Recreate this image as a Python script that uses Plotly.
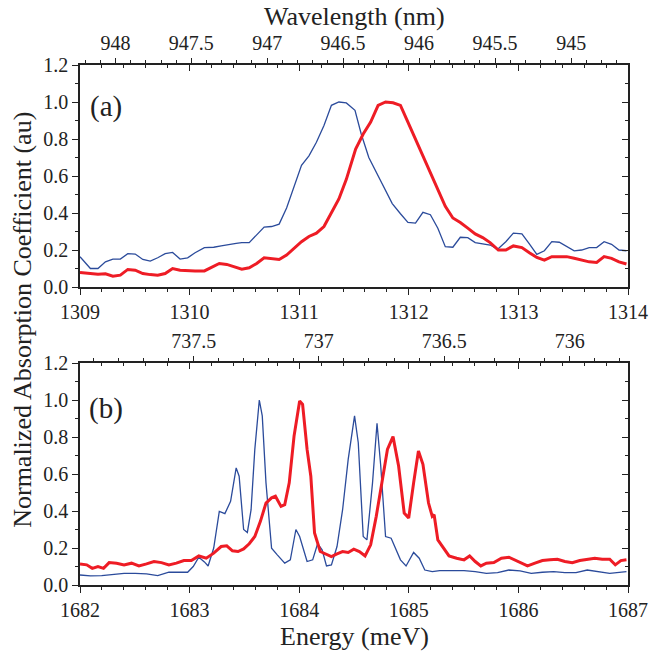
import numpy as np
import plotly.graph_objects as go

# ---------------- data ----------------
# panel (a)
energy_a_blue = [1309.000, 1309.095, 1309.164, 1309.232, 1309.300, 1309.368, 1309.436, 1309.504, 1309.573, 1309.641,
                 1309.709, 1309.777, 1309.845, 1309.913, 1309.982, 1310.050, 1310.135, 1310.220, 1310.288, 1310.357,
                 1310.425, 1310.476, 1310.544, 1310.612, 1310.680, 1310.748, 1310.817, 1310.885, 1310.953, 1311.021,
                 1311.089, 1311.157, 1311.226, 1311.294, 1311.362, 1311.430, 1311.509, 1311.566, 1311.635, 1311.703,
                 1311.771, 1311.849, 1311.924, 1311.992, 1312.061, 1312.129, 1312.197, 1312.265, 1312.333, 1312.402,
                 1312.470, 1312.538, 1312.606, 1312.674, 1312.742, 1312.811, 1312.885, 1312.954, 1313.032, 1313.100,
                 1313.168, 1313.237, 1313.305, 1313.373, 1313.441, 1313.509, 1313.577, 1313.646, 1313.714, 1313.782,
                 1313.850, 1313.918, 1313.986]
absorb_a_blue = [0.164, 0.100, 0.100, 0.136, 0.151, 0.151, 0.180, 0.178, 0.149, 0.140,
                 0.158, 0.180, 0.187, 0.151, 0.158, 0.185, 0.213, 0.215, 0.222, 0.231,
                 0.236, 0.240, 0.240, 0.282, 0.324, 0.327, 0.340, 0.427, 0.545, 0.658,
                 0.709, 0.782, 0.873, 0.982, 1.000, 0.995, 0.955, 0.827, 0.700, 0.618,
                 0.536, 0.451, 0.396, 0.349, 0.345, 0.404, 0.391, 0.318, 0.218, 0.215,
                 0.269, 0.267, 0.240, 0.233, 0.227, 0.204, 0.245, 0.291, 0.287, 0.233,
                 0.176, 0.196, 0.245, 0.242, 0.218, 0.195, 0.200, 0.213, 0.213, 0.245,
                 0.231, 0.200, 0.196]

energy_a_red = [1309.000, 1309.095, 1309.164, 1309.232, 1309.300, 1309.368, 1309.436, 1309.504, 1309.573, 1309.641,
                1309.709, 1309.777, 1309.845, 1309.913, 1309.982, 1310.050, 1310.135, 1310.203, 1310.271, 1310.339,
                1310.408, 1310.476, 1310.544, 1310.612, 1310.680, 1310.748, 1310.817, 1310.885, 1310.953, 1311.021,
                1311.089, 1311.157, 1311.226, 1311.294, 1311.362, 1311.430, 1311.515, 1311.584, 1311.652, 1311.720,
                1311.788, 1311.856, 1311.924, 1311.992, 1312.061, 1312.129, 1312.197, 1312.265, 1312.333, 1312.402,
                1312.470, 1312.538, 1312.606, 1312.674, 1312.742, 1312.817, 1312.885, 1312.954, 1313.032, 1313.100,
                1313.168, 1313.237, 1313.305, 1313.373, 1313.441, 1313.509, 1313.577, 1313.646, 1313.714, 1313.782,
                1313.850, 1313.918, 1313.986]
absorb_a_red = [0.078, 0.073, 0.069, 0.071, 0.058, 0.064, 0.095, 0.091, 0.073, 0.067,
                0.064, 0.073, 0.100, 0.091, 0.087, 0.087, 0.087, 0.105, 0.127, 0.122,
                0.109, 0.096, 0.104, 0.127, 0.158, 0.155, 0.149, 0.173, 0.209, 0.245,
                0.273, 0.291, 0.327, 0.400, 0.476, 0.582, 0.745, 0.827, 0.891, 0.982,
                1.000, 0.996, 0.982, 0.891, 0.800, 0.709, 0.618, 0.527, 0.436, 0.373,
                0.349, 0.318, 0.287, 0.267, 0.240, 0.200, 0.200, 0.222, 0.213, 0.185,
                0.160, 0.145, 0.164, 0.164, 0.164, 0.155, 0.145, 0.136, 0.133, 0.164,
                0.155, 0.136, 0.124]

# panel (b)
energy_b_blue = [1682.000, 1682.095, 1682.198, 1682.300, 1682.402, 1682.504, 1682.607, 1682.709, 1682.811, 1682.913,
                 1682.982, 1683.033, 1683.084, 1683.135, 1683.169, 1683.220, 1683.271, 1683.322, 1683.374, 1683.425,
                 1683.452, 1683.493, 1683.527, 1683.561, 1683.595, 1683.636, 1683.663, 1683.697, 1683.748, 1683.800,
                 1683.868, 1683.919, 1683.970, 1684.004, 1684.072, 1684.123, 1684.168, 1684.209, 1684.249, 1684.294,
                 1684.345, 1684.396, 1684.447, 1684.505, 1684.539, 1684.584, 1684.618, 1684.669, 1684.710, 1684.744,
                 1684.788, 1684.839, 1684.873, 1684.924, 1684.975, 1685.044, 1685.095, 1685.146, 1685.214, 1685.282,
                 1685.402, 1685.504, 1685.606, 1685.708, 1685.810, 1685.913, 1686.015, 1686.117, 1686.219, 1686.322,
                 1686.424, 1686.526, 1686.628, 1686.731, 1686.833, 1686.986]
absorb_b_blue = [0.054, 0.049, 0.051, 0.056, 0.063, 0.063, 0.060, 0.051, 0.069, 0.069,
                 0.069, 0.100, 0.150, 0.125, 0.103, 0.200, 0.398, 0.386, 0.452, 0.633,
                 0.588, 0.300, 0.284, 0.407, 0.733, 1.000, 0.914, 0.552, 0.199, 0.163,
                 0.118, 0.136, 0.300, 0.262, 0.127, 0.136, 0.223, 0.190, 0.103, 0.109,
                 0.208, 0.407, 0.679, 0.914, 0.769, 0.262, 0.244, 0.552, 0.874, 0.643,
                 0.262, 0.253, 0.208, 0.136, 0.103, 0.176, 0.145, 0.081, 0.072, 0.078,
                 0.078, 0.078, 0.072, 0.063, 0.067, 0.081, 0.076, 0.063, 0.069, 0.072,
                 0.067, 0.067, 0.081, 0.072, 0.063, 0.072]

energy_b_red = [1682.000, 1682.061, 1682.112, 1682.164, 1682.215, 1682.266, 1682.334, 1682.402, 1682.470, 1682.538,
                1682.607, 1682.675, 1682.743, 1682.811, 1682.879, 1682.948, 1683.016, 1683.084, 1683.152, 1683.220,
                1683.288, 1683.339, 1683.391, 1683.442, 1683.493, 1683.544, 1683.595, 1683.646, 1683.697, 1683.748,
                1683.783, 1683.834, 1683.868, 1683.909, 1683.953, 1684.004, 1684.031, 1684.072, 1684.106, 1684.140,
                1684.192, 1684.243, 1684.294, 1684.345, 1684.396, 1684.447, 1684.498, 1684.549, 1684.601, 1684.652,
                1684.703, 1684.754, 1684.805, 1684.856, 1684.907, 1684.958, 1684.999, 1685.044, 1685.088, 1685.129,
                1685.180, 1685.214, 1685.231, 1685.265, 1685.316, 1685.367, 1685.436, 1685.504, 1685.555, 1685.606,
                1685.657, 1685.708, 1685.776, 1685.845, 1685.913, 1685.964, 1686.015, 1686.083, 1686.151, 1686.219,
                1686.288, 1686.356, 1686.424, 1686.492, 1686.560, 1686.628, 1686.697, 1686.765, 1686.833, 1686.884,
                1686.935, 1686.986]
absorb_b_red = [0.114, 0.109, 0.090, 0.100, 0.090, 0.121, 0.118, 0.109, 0.118, 0.103,
                0.114, 0.127, 0.121, 0.109, 0.118, 0.132, 0.132, 0.157, 0.145, 0.172,
                0.208, 0.212, 0.185, 0.181, 0.195, 0.223, 0.262, 0.344, 0.443, 0.471,
                0.480, 0.425, 0.434, 0.552, 0.805, 0.995, 0.977, 0.733, 0.588, 0.281,
                0.181, 0.168, 0.154, 0.168, 0.181, 0.176, 0.194, 0.181, 0.157, 0.217,
                0.371, 0.552, 0.733, 0.802, 0.643, 0.389, 0.362, 0.552, 0.724, 0.652,
                0.443, 0.371, 0.380, 0.244, 0.199, 0.157, 0.145, 0.136, 0.157, 0.127,
                0.103, 0.118, 0.121, 0.145, 0.150, 0.136, 0.118, 0.103, 0.118, 0.132,
                0.136, 0.139, 0.127, 0.121, 0.132, 0.139, 0.145, 0.139, 0.139, 0.109,
                0.132, 0.136]

# wavelength axis labels (nm) and energy-wavelength conversion used by the figure
HC = 1241.24  # meV*nm
wl_labels_a = [948, 947.5, 947, 946.5, 946, 945.5, 945]
wl_labels_b = [737.5, 737, 736.5, 736]
range_a = [1309, 1314]
range_b = [1682, 1687]

BLUE = "#2b4b9b"
RED = "#ee1c25"
FONT = "Liberation Serif"
TICKCOL = "#222222"

def wl_to_e(wl):
    return [HC / w * 1000.0 for w in wl]

def wl_minor(rng):
    lo = HC / rng[1] * 1000.0
    hi = HC / rng[0] * 1000.0
    vals = np.arange(np.ceil(lo * 10) / 10, hi, 0.1)
    return [HC / v * 1000.0 for v in vals]

fig = go.Figure()
fig.add_trace(go.Scatter(x=energy_a_blue, y=absorb_a_blue, mode="lines",
                         line=dict(color=BLUE, width=1.3), xaxis="x", yaxis="y", showlegend=False))
fig.add_trace(go.Scatter(x=energy_a_red, y=absorb_a_red, mode="lines",
                         line=dict(color=RED, width=3), xaxis="x", yaxis="y", showlegend=False))
fig.add_trace(go.Scatter(x=energy_b_blue, y=absorb_b_blue, mode="lines",
                         line=dict(color=BLUE, width=1.3), xaxis="x4", yaxis="y3", showlegend=False))
fig.add_trace(go.Scatter(x=energy_b_red, y=absorb_b_red, mode="lines",
                         line=dict(color=RED, width=3), xaxis="x4", yaxis="y3", showlegend=False))

# empty helper traces so the frame / secondary axes get drawn
for xa, ya in [("x2", "y"), ("x3", "y"), ("x", "y2"), ("x5", "y3"), ("x6", "y3"), ("x4", "y4")]:
    fig.add_trace(go.Scatter(x=[None], y=[None], mode="lines", xaxis=xa, yaxis=ya,
                             showlegend=False, hoverinfo="skip"))

tickfont = dict(family=FONT, size=20, color=TICKCOL)
line_common = dict(showline=True, linecolor="#222", linewidth=1.5, showgrid=False, zeroline=False,
                   tickcolor="#222", tickwidth=1.2)

dom_a = [1 - 222 / 520, 1]
dom_b = [0, 222 / 520]

def energy_axis(rng, anchor, **kw):
    d = dict(line_common)
    d.update(range=rng, anchor=anchor, tickmode="array", tickvals=list(range(rng[0], rng[1] + 1)),
             ticks="outside", ticklen=6, tickfont=tickfont,
             minor=dict(tickmode="linear", dtick=0.2, tick0=rng[0], ticks="outside", ticklen=3,
                        tickcolor="#222", tickwidth=1.2))
    d.update(kw)
    return d

def mirror_energy_axis(rng, anchor, overlay):
    d = dict(line_common)
    d.update(range=rng, anchor=anchor, overlaying=overlay, side="top", tickmode="array",
             tickvals=list(range(rng[0], rng[1] + 1)), ticks="inside", ticklen=6, showticklabels=False,
             minor=dict(tickmode="linear", dtick=0.2, tick0=rng[0], ticks="inside", ticklen=3,
                        tickcolor="#222", tickwidth=1.2))
    return d

def wl_axis(rng, anchor, overlay, labels):
    d = dict(line_common)
    d.update(range=rng, anchor=anchor, overlaying=overlay, side="top", tickmode="array",
             tickvals=wl_to_e(labels), ticktext=[str(l) for l in labels], ticks="outside", ticklen=5,
             tickfont=tickfont,
             minor=dict(tickmode="array", tickvals=wl_minor(rng), ticks="outside", ticklen=3,
                        tickcolor="#222", tickwidth=1.2))
    return d

def y_axis(domain, anchor):
    d = dict(line_common)
    d.update(domain=domain, anchor=anchor, range=[0, 1.2], tickmode="array",
             tickvals=[0, 0.2, 0.4, 0.6, 0.8, 1.0, 1.2], tickformat=".1f", ticks="outside", ticklen=6,
             tickfont=tickfont,
             minor=dict(tickmode="linear", dtick=0.1, tick0=0, ticks="outside", ticklen=3,
                        tickcolor="#222", tickwidth=1.2))
    return d

def y_mirror(domain, anchor, overlay):
    d = dict(line_common)
    d.update(domain=domain, anchor=anchor, overlaying=overlay, side="right", range=[0, 1.2],
             tickmode="array", tickvals=[0, 0.2, 0.4, 0.6, 0.8, 1.0, 1.2], ticks="inside", ticklen=6,
             showticklabels=False,
             minor=dict(tickmode="linear", dtick=0.1, tick0=0, ticks="inside", ticklen=3,
                        tickcolor="#222", tickwidth=1.2))
    return d

fig.update_layout(
    width=660, height=651,
    margin=dict(l=80, r=20, t=65, b=66),
    paper_bgcolor="white", plot_bgcolor="white",
    font=dict(family=FONT, color=TICKCOL),
    xaxis=energy_axis(range_a, "y"),
    xaxis2=mirror_energy_axis(range_a, "y", "x"),
    xaxis3=wl_axis(range_a, "y", "x", wl_labels_a),
    xaxis4=energy_axis(range_b, "y3"),
    xaxis5=mirror_energy_axis(range_b, "y3", "x4"),
    xaxis6=wl_axis(range_b, "y3", "x4", wl_labels_b),
    yaxis=y_axis(dom_a, "x"),
    yaxis2=y_mirror(dom_a, "x", "y"),
    yaxis3=y_axis(dom_b, "x4"),
    yaxis4=y_mirror(dom_b, "x4", "y3"),
)

ann = [
    dict(text="Wavelength (nm)", x=0.5, y=1.094, xref="paper", yref="paper", showarrow=False,
         font=dict(family=FONT, size=26, color=TICKCOL), xanchor="center", yanchor="middle"),
    dict(text="Energy (meV)", x=0.5, y=-0.099, xref="paper", yref="paper", showarrow=False,
         font=dict(family=FONT, size=26, color=TICKCOL), xanchor="center", yanchor="middle"),
    dict(text="Normalized Absorption Coefficient (au)", x=-0.104, y=0.51, xref="paper", yref="paper",
         showarrow=False, textangle=-90,
         font=dict(family=FONT, size=26, color=TICKCOL), xanchor="center", yanchor="middle"),
    dict(text="(a)", x=0.048, y=0.921, xref="paper", yref="paper", showarrow=False,
         font=dict(family=FONT, size=29, color=TICKCOL), xanchor="center", yanchor="middle"),
    dict(text="(b)", x=0.048, y=0.340, xref="paper", yref="paper", showarrow=False,
         font=dict(family=FONT, size=29, color=TICKCOL), xanchor="center", yanchor="middle"),
]
fig.update_layout(annotations=ann)

fig.write_html("out.html")
